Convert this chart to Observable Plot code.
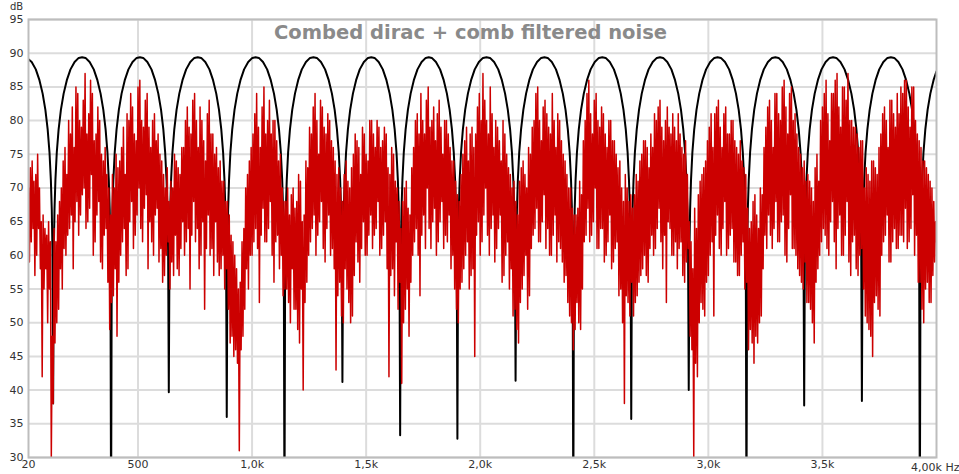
<!DOCTYPE html>
<html>
<head>
<meta charset="utf-8">
<script src="https://cdn.jsdelivr.net/npm/d3@7"></script>
<script src="https://cdn.jsdelivr.net/npm/@observablehq/plot@0.6"></script>
<style>
  html, body { margin: 0; padding: 0; background: #fff; }
  svg { display: block; }
</style>
</head>
<body>
<div id="chart"></div>
<script>
// ---------- text ----------
const title = "Combed dirac + comb filtered noise";
const yUnit = "dB";
const xTickValues = [20, 500, 1000, 1500, 2000, 2500, 3000, 3500];
const xTickLabels = ["20", "500", "1,0k", "1,5k", "2,0k", "2,5k", "3,0k", "3,5k"];
const xEndValue = 4000;
const xEndLabel = "4,00k Hz";
const yTicks = [30, 35, 40, 45, 50, 55, 60, 65, 70, 75, 80, 85, 90, 95];

// ---------- comb filtered noise (red), one value every 4 Hz from 20 Hz ----------
const noiseStartHz = 20;
const noiseStepHz = 4;
const noiseDb = [
  70,59,73,62,74,64,71,57,72,60,75,64,70,58,65,42,66,55,64,58,63,50,65,55,62,30,48,38,
  64,47,62,50,66,52,68,58,70,55,74,61,76,60,72,63,80,64,78,66,82,58,76,65,85,68,84,63,80,66,79,69,83,70,87,64,78,65,81,67,86,72,84,60,77,62,78,66,82,68,80,59,75,58,74,63,76,64,72,56,70,49,66,53,
  72,54,70,58,75,48,73,56,74,60,76,62,79,64,72,57,81,58,80,65,84,68,82,61,78,63,77,66,85,70,86,64,80,62,79,67,83,69,84,58,79,65,76,62,80,60,81,66,77,67,78,59,75,61,74,56,72,57,70,60,73,62,68,55,
  71,59,70,57,75,63,74,58,73,57,72,61,76,65,76,60,80,62,82,64,79,55,78,63,83,68,84,62,80,64,76,58,82,60,80,65,77,52,74,61,81,66,83,60,78,61,78,57,75,65,76,59,73,57,74,58,71,60,71,55,68,58,
  68,52,66,47,63,48,62,45,60,46,58,44,55,31,56,46,62,48,64,52,70,58,72,55,74,60,76,60,78,62,81,64,84,61,79,53,76,63,82,67,85,62,78,62,80,64,83,68,78,60,80,56,80,62,77,63,74,58,75,60,70,54,68,55,
  68,55,70,53,66,50,69,58,70,52,67,52,68,49,72,47,71,55,65,40,66,53,74,56,73,60,79,62,78,64,82,66,84,60,80,63,75,65,83,68,82,61,79,59,78,64,81,66,80,60,77,61,76,58,74,43,72,54,73,56,70,51,68,50,
  72,58,74,55,71,53,70,50,73,51,75,57,78,62,77,59,76,56,72,61,79,65,78,60,75,60,74,63,80,66,80,61,78,63,76,64,80,68,79,60,76,61,77,63,79,65,78,58,73,42,72,57,76,58,75,54,71,62,70,52,68,56,64,41,
  68,50,70,52,71,55,67,48,66,56,73,60,76,62,80,64,81,60,78,54,84,63,80,66,78,61,83,70,85,64,79,61,80,65,82,67,77,60,81,62,83,65,79,68,75,61,80,63,80,62,78,66,76,58,74,60,74,55,71,52,69,50,68,55,
  72,56,75,58,77,60,79,62,74,55,78,57,79,58,76,45,78,63,82,65,84,60,80,62,87,66,83,70,80,63,78,60,85,64,81,66,76,59,80,61,79,64,77,66,74,56,80,57,78,60,75,62,73,55,72,58,70,51,71,52,68,49,66,47,
  71,53,73,55,74,57,72,60,70,52,76,54,75,61,79,63,80,64,84,67,85,62,80,62,77,65,82,69,83,61,81,64,79,60,78,60,84,63,80,66,76,59,81,62,80,61,77,59,75,56,74,57,72,53,70,51,70,50,67,46,66,49,
  66,53,67,50,71,49,69,55,77,62,80,63,84,67,86,62,81,63,78,65,83,70,84,61,80,61,79,64,82,64,81,59,78,60,76,62,80,66,80,58,77,59,77,61,75,62,73,54,74,55,70,50,68,38,72,54,70,53,68,51,69,56,
  67,51,69,53,72,54,71,56,74,57,75,58,77,60,77,57,76,56,73,61,78,63,76,60,81,61,80,64,82,67,83,62,79,58,77,63,80,53,82,65,79,64,78,60,81,60,79,62,77,58,81,61,78,62,76,57,75,56,77,59,72,61,
  65,48,62,46,58,30,67,44,64,42,69,50,71,53,72,52,73,51,74,56,77,57,79,60,81,62,76,51,81,63,82,66,83,61,79,60,76,64,81,68,82,60,78,61,78,63,80,64,80,59,77,59,76,57,75,57,77,60,74,62,73,55,72,56,
  67,46,64,49,65,47,68,44,69,48,66,47,64,50,70,51,69,58,76,63,79,61,82,66,83,63,80,61,76,64,84,68,84,62,81,62,80,65,85,66,86,60,82,59,78,64,84,69,85,61,80,61,81,60,78,58,76,57,75,56,73,55,74,59,71,53,
  72,53,71,52,70,50,68,47,73,56,75,58,71,60,80,62,82,64,84,63,86,61,81,60,77,65,84,68,84,62,86,58,87,64,82,66,79,60,85,60,85,63,83,68,87,59,80,57,80,62,79,63,79,58,78,57,76,60,77,61,77,55,
  70,51,73,50,72,49,71,48,74,45,74,53,73,54,72,52,76,51,78,60,81,62,82,63,80,66,76,59,83,59,83,62,81,64,79,61,84,61,81,63,85,63,84,62,86,67,86,61,82,62,79,64,85,69,85,60,80,63,78,56,77,56,76,52,74,50,74,55,73,56,72,53,71,53,70,57,68,59,65,62
];

// ---------- combed dirac (black) ----------
const notchHz = [128, 382, 635, 889, 1142, 1396, 1649, 1900, 2155, 2408, 2662, 2914, 3167, 3420, 3673, 3927];
const notchDb = [38.0, 20, 39.7, 36.0, 20, 41.2, 33.3, 32.8, 41.4, 20, 35.7, 40.0, 20, 37.7, 38.4, 20];
const combPeakDb = 89.4;
const combStartDb = 89.1;
const combEndDb = 87.3;
// lobe shape: distance from a notch (Hz) -> level below the peak (dB)
const lobeOffsetHz = [3, 6, 10, 16, 24, 34, 46, 60, 76, 94, 112];
const lobeDropDb = [-28.6, -22.6, -18.2, -14.1, -10.7, -7.8, -5.4, -3.4, -1.8, -0.7, -0.1];

// ---------- tables ----------
const noise = noiseDb.map((db, i) => ({f: noiseStartHz + i * noiseStepHz, db}));

const comb = [{f: 20, db: combStartDb}];
const last = notchHz.length - 1;
notchHz.forEach((n, k) => {
  for (let j = lobeOffsetHz.length - 1; j >= 0; j--) {
    const f = n - lobeOffsetHz[j];
    if (f > 20) comb.push({f, db: combPeakDb + lobeDropDb[j]});
  }
  comb.push({f: n, db: notchDb[k]});
  for (let j = 0; j < lobeOffsetHz.length; j++) {
    const f = n + lobeOffsetHz[j];
    if (f < xEndValue) comb.push({f, db: combPeakDb + lobeDropDb[j]});
  }
  if (k < last) comb.push({f: (n + notchHz[k + 1]) / 2, db: combPeakDb});
});
comb.push({f: xEndValue, db: combEndDb});

const xLabel = new Map(xTickValues.map((v, i) => [v, xTickLabels[i]]));

const chart = Plot.plot({
  width: 959,
  height: 474,
  marginLeft: 28,
  marginRight: 23,
  marginTop: 19,
  marginBottom: 17,
  x: {domain: [20, xEndValue]},
  y: {domain: [30, 95]},
  style: {fontFamily: "'DejaVu Sans', sans-serif", fontSize: "11px", color: "#333", background: "#fff"},
  marks: [
    Plot.gridY(yTicks, {stroke: "#dcdcdc", strokeOpacity: 1, strokeWidth: 2}),
    Plot.gridX(xTickValues.slice(1), {stroke: "#dcdcdc", strokeOpacity: 1, strokeWidth: 2}),
    Plot.text([title], {frameAnchor: "top", dx: -12, dy: 13, lineAnchor: "middle", fontSize: 19.5, fontWeight: "bold", fill: "#8a8a8a"}),
    Plot.line(comb, {x: "f", y: "db", stroke: "#000", strokeWidth: 2, clip: true}),
    Plot.line(noise, {x: "f", y: "db", stroke: "#cc0000", strokeWidth: 1.5, clip: true}),
    Plot.frame({stroke: "#bdbdbd", strokeWidth: 2}),
    Plot.axisY(yTicks, {tickSize: 0, tickPadding: 5, label: null, tickFormat: d => String(d), fill: "#333"}),
    Plot.axisX(xTickValues, {tickSize: 0, tickPadding: 3, label: null, tickFormat: d => xLabel.get(d), fill: "#333"}),
    Plot.text([xEndLabel], {frameAnchor: "bottom-right", dx: 23, dy: 10, textAnchor: "end", lineAnchor: "middle", fill: "#333"}),
    Plot.text([yUnit], {frameAnchor: "top-left", dx: -12, dy: -13, textAnchor: "middle", lineAnchor: "middle", fontSize: 10, fill: "#333"})
  ]
});
document.getElementById("chart").appendChild(chart);
</script>
</body>
</html>
